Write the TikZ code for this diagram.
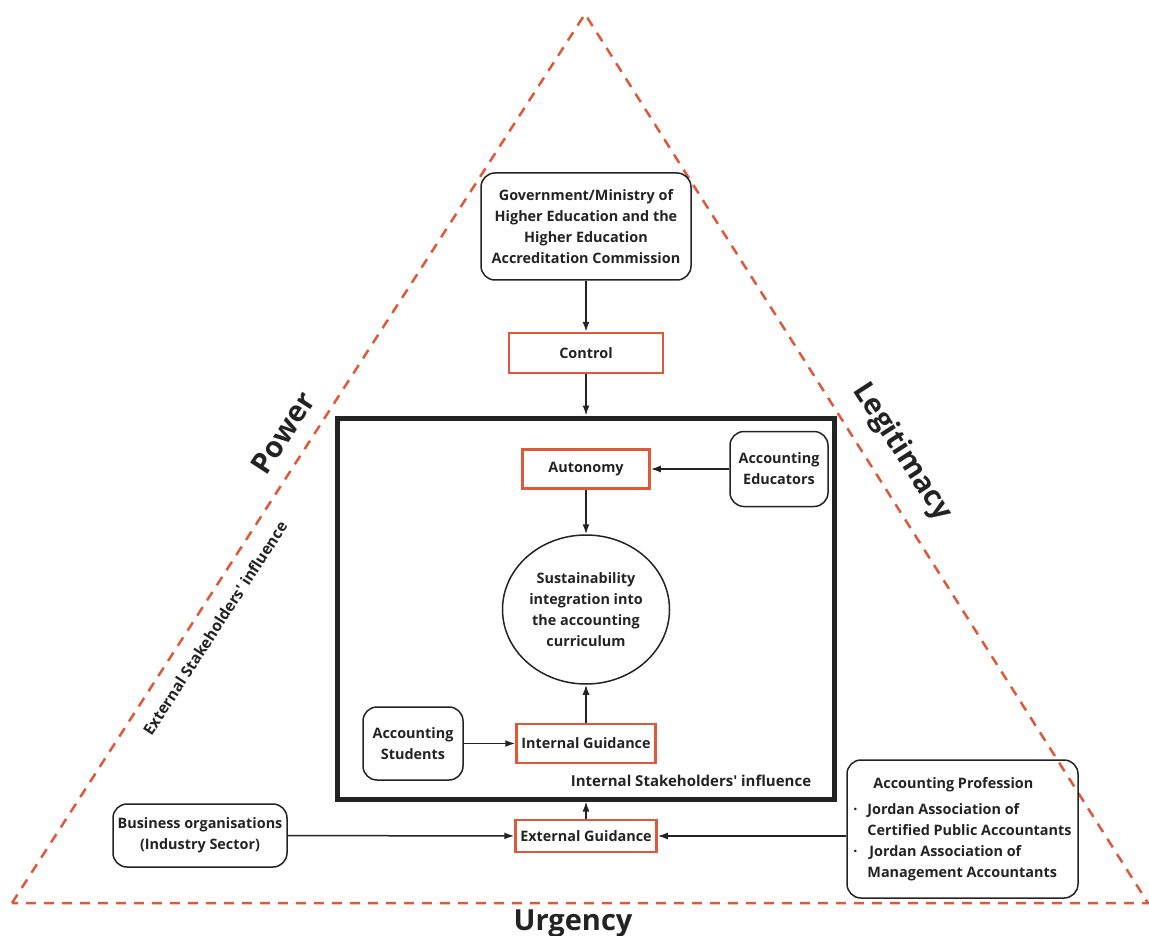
\documentclass[tikz,border=0pt]{standalone}
\usepackage{fontspec}
\setmainfont{Open Sans}[Ligatures=TeXOff]
\usetikzlibrary{arrows.meta, positioning, shapes.geometric}
\definecolor{edgered}{RGB}{222,88,58}
\definecolor{ink}{RGB}{35,35,35}

\begin{document}
\begin{tikzpicture}[x=1pt, y=-1pt, font=\bfseries\fontsize{14.4}{21}\selectfont, text=ink, align=center, >={Latex[length=10pt,width=7pt]}]
\useasboundingbox (0,0) rectangle (1149,936);

\tikzstyle{stake node}=[draw=ink, line width=1.5pt, rounded corners=14pt, inner sep=3pt]
\tikzstyle{flow node}=[draw=edgered, line width=2.5pt, inner sep=0pt]
\tikzstyle{core node}=[ellipse, draw=ink, line width=1.5pt, minimum width=167pt, minimum height=149pt, inner sep=0pt]
\tikzstyle{side label}=[font=\bfseries\fontsize{29}{34}\selectfont]
\tikzstyle{area label}=[font=\bfseries\fontsize{15.5}{21}\selectfont]
\tikzstyle{link}=[->, draw=ink, line width=1.5pt]

% Salience triangle
\coordinate (T) at (585,14);
\coordinate (L) at (12,903);
\coordinate (R) at (1148,903);
\draw[edgered, line width=2.5pt, dash pattern=on 10pt off 8pt] (L) -- (T) -- (R) -- cycle;

% Top: government and control
\node[stake node, minimum width=210pt, minimum height=107pt] (G) at (586,226.5) {Government/Ministry of\\Higher Education and the\\Higher Education\\Accreditation Commission};
\node[flow node, minimum width=154pt, minimum height=40pt] (F1) at (586,353) {Control};

% Internal stakeholders
\node[draw=ink, line width=5pt, minimum width=497pt, minimum height=381pt, inner sep=0pt] (B) at (586,608.5) {};
\node[flow node, minimum width=127pt, minimum height=39pt] (F2) at (586,469) {Autonomy};
\node[stake node, minimum width=98pt, minimum height=75pt] (S1) at (779,469) {Accounting\\Educators};
\node[core node] (K) at (586,609.5) {Sustainability\\integration into\\the accounting\\curriculum};
\node[flow node, minimum width=139pt, minimum height=39pt] (F3) at (586,743.5) {Internal Guidance};
\node[stake node, minimum width=100pt, minimum height=73pt] (S2) at (413,743.5) {Accounting\\Students};
\node[font=\bfseries\fontsize{15}{21}\selectfont] (I) at (691,781) {Internal Stakeholders' influence};

% External stakeholders
\node[flow node, minimum width=141pt, minimum height=32pt] (F4) at (586,836) {External Guidance};
\node[stake node, minimum width=174pt, minimum height=63pt] (S3) at (200,835.5) {Business organisations\\(Industry Sector)};
\node[stake node, minimum width=231pt, minimum height=138pt, align=left] (S4) at (962.5,829) {\hspace*{20pt}Accounting Profession\\[5pt]
\makebox[14pt][l]{·}Jordan Association of\\
\hspace*{14pt}Certified Public Accountants\\
\makebox[14pt][l]{·}\hspace{2pt}Jordan Association of\\
\hspace*{14pt}Management Accountants};

% Flows
\draw[link] (G) -- (F1);
\draw[link] (F1) -- (B.north);
\draw[link] (F2) -- (K);
\draw[link] (S1) -- (F2);
\draw[link] (S2) -- (F3);
\draw[link] (F3) -- (K);
\draw[link] (F4) -- (B.south);
\draw[link] (S3) -- (F4);
\draw[link] (S4.west |- F4) -- (F4);

% Attribute names
\node[side label, rotate=57] (P) at (283,433) {Power};
\node[side label, rotate=-57] (Lg) at (902,452) {Legitimacy};
\node[side label, anchor=base] (U) at (573,930) {Urgency};
\node[area label, rotate=57] (E) at (215,628) {External Stakeholders' influence};

\end{tikzpicture}
\end{document}
